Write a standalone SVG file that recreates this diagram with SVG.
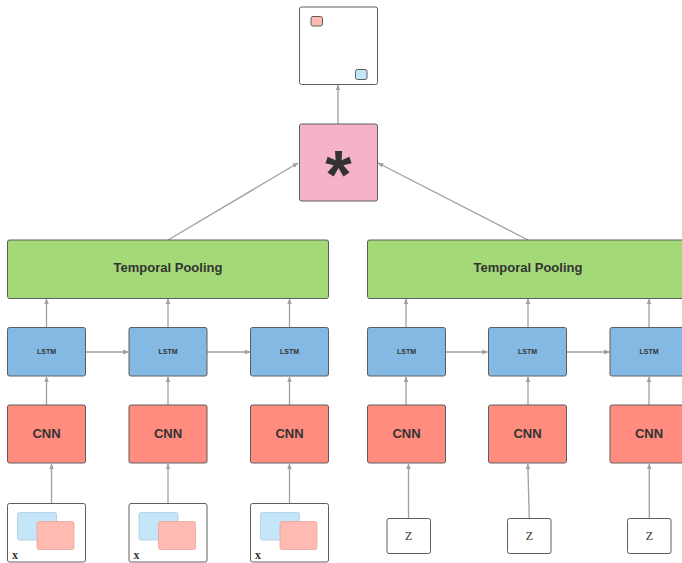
<svg xmlns="http://www.w3.org/2000/svg" width="682" height="563" viewBox="0 0 682 563">
<defs>
<style>
.n{stroke:#5e5e5e;stroke-width:1}
.pool{fill:#a3d977}
.lstm{fill:#83b9e3}
.cnn{fill:#ff8c7e}
.w{fill:#fff}
.c{stroke:#a0a0a0;stroke-width:1.3;fill:none;marker-end:url(#ah)}
.t{font-family:"Liberation Sans",Arial,sans-serif;font-weight:bold;fill:#333;text-anchor:middle}
.s{font-family:"Liberation Serif","Times New Roman",serif;fill:#333}
.ib{fill:#c5e6f8;stroke:#a9cde3;stroke-width:0.8}
.ip{fill:#ffbab2;stroke:#eaa39b;stroke-width:0.8}
</style>
<marker id="ah" viewBox="0 0 10 10" refX="9" refY="5" markerWidth="6" markerHeight="6" markerUnits="userSpaceOnUse" orient="auto">
<path d="M0,1 L10,5 L0,9 z" fill="#a0a0a0"/>
</marker>
</defs>
<g id="connectors">
<line class="c" x1="338" y1="124" x2="338" y2="85"/>
<line class="c" x1="168" y1="240" x2="298" y2="163"/>
<line class="c" x1="528" y1="240" x2="378" y2="163"/>
<line class="c" x1="46.5" y1="327.5" x2="46.5" y2="299"/>
<line class="c" x1="168" y1="327.5" x2="168" y2="299"/>
<line class="c" x1="289.5" y1="327.5" x2="289.5" y2="299"/>
<line class="c" x1="406" y1="327.5" x2="406" y2="299"/>
<line class="c" x1="528" y1="327.5" x2="528" y2="299"/>
<line class="c" x1="649" y1="327.5" x2="649" y2="299"/>
<line class="c" x1="85.5" y1="352" x2="128.5" y2="352"/>
<line class="c" x1="207" y1="352" x2="250" y2="352"/>
<line class="c" x1="445.5" y1="352" x2="487.5" y2="352"/>
<line class="c" x1="566.5" y1="352" x2="609.5" y2="352"/>
<line class="c" x1="46.5" y1="405" x2="46.5" y2="377"/>
<line class="c" x1="168" y1="405" x2="168" y2="377"/>
<line class="c" x1="289.5" y1="405" x2="289.5" y2="377"/>
<line class="c" x1="406" y1="405" x2="406" y2="377"/>
<line class="c" x1="528" y1="405" x2="528" y2="377"/>
<line class="c" x1="649" y1="405" x2="649" y2="377"/>
<line class="c" x1="51.5" y1="503" x2="51.5" y2="464"/>
<line class="c" x1="168" y1="503" x2="168" y2="464"/>
<line class="c" x1="289.5" y1="503" x2="289.5" y2="464"/>
<line class="c" x1="408.5" y1="518" x2="408.5" y2="464"/>
<line class="c" x1="529.3" y1="518" x2="527.8" y2="464"/>
<line class="c" x1="649.3" y1="518" x2="649.3" y2="464"/>
</g>
<g id="output">
<rect class="n w" x="299.5" y="7" width="78" height="77.5" rx="2"/>
<rect class="n" x="311" y="16.5" width="11.5" height="9.5" rx="2" fill="#ffbab2"/>
<rect class="n" x="355.5" y="69.5" width="11.5" height="10" rx="2" fill="#c5e6f8"/>
</g>
<g id="product">
<rect class="n" x="299.5" y="124" width="78" height="77" rx="2" fill="#f4b3c8"/>
<text class="t" x="338.5" y="198" font-size="68" fill="#2a2a2a">*</text>
</g>
<g id="pool1">
<rect class="n pool" x="7.5" y="240" width="321" height="58.5" rx="2"/>
<text class="t" x="168" y="272" font-size="13">Temporal Pooling</text>
</g>
<g id="pool2">
<rect class="n pool" x="367.5" y="240" width="321" height="58.5" rx="2"/>
<text class="t" x="528" y="272" font-size="13">Temporal Pooling</text>
</g>
<g id="lstm1"><rect class="n lstm" x="7.5" y="327.5" width="78" height="48.5" rx="2"/><text class="t" x="46.5" y="354" font-size="7">LSTM</text></g>
<g id="lstm2"><rect class="n lstm" x="129" y="327.5" width="78" height="48.5" rx="2"/><text class="t" x="168" y="354" font-size="7">LSTM</text></g>
<g id="lstm3"><rect class="n lstm" x="250.5" y="327.5" width="78" height="48.5" rx="2"/><text class="t" x="289.5" y="354" font-size="7">LSTM</text></g>
<g id="lstm4"><rect class="n lstm" x="367.5" y="327.5" width="78" height="48.5" rx="2"/><text class="t" x="406.5" y="354" font-size="7">LSTM</text></g>
<g id="lstm5"><rect class="n lstm" x="488.5" y="327.5" width="78" height="48.5" rx="2"/><text class="t" x="527.5" y="354" font-size="7">LSTM</text></g>
<g id="lstm6"><rect class="n lstm" x="610" y="327.5" width="78" height="48.5" rx="2"/><text class="t" x="649" y="354" font-size="7">LSTM</text></g>
<g id="cnn1"><rect class="n cnn" x="7.5" y="405" width="78" height="58" rx="2"/><text class="t" x="46.5" y="438" font-size="13">CNN</text></g>
<g id="cnn2"><rect class="n cnn" x="129" y="405" width="78" height="58" rx="2"/><text class="t" x="168" y="438" font-size="13">CNN</text></g>
<g id="cnn3"><rect class="n cnn" x="250.5" y="405" width="78" height="58" rx="2"/><text class="t" x="289.5" y="438" font-size="13">CNN</text></g>
<g id="cnn4"><rect class="n cnn" x="367.5" y="405" width="78" height="58" rx="2"/><text class="t" x="406.5" y="438" font-size="13">CNN</text></g>
<g id="cnn5"><rect class="n cnn" x="488.5" y="405" width="78" height="58" rx="2"/><text class="t" x="527.5" y="438" font-size="13">CNN</text></g>
<g id="cnn6"><rect class="n cnn" x="610" y="405" width="78" height="58" rx="2"/><text class="t" x="649" y="438" font-size="13">CNN</text></g>
<g id="x1">
<rect class="n w" x="7.5" y="503.5" width="78" height="58.5" rx="2"/>
<rect class="ib" x="17.5" y="512.5" width="39" height="27.5" rx="2"/>
<rect class="ip" x="37" y="521.5" width="37" height="28" rx="2"/>
<text class="s" x="12" y="559" font-size="12" font-weight="bold">x</text>
</g>
<g id="x2">
<rect class="n w" x="129" y="503.5" width="78" height="58.5" rx="2"/>
<rect class="ib" x="139" y="512.5" width="39" height="27.5" rx="2"/>
<rect class="ip" x="158.5" y="521.5" width="37" height="28" rx="2"/>
<text class="s" x="133.5" y="559" font-size="12" font-weight="bold">x</text>
</g>
<g id="x3">
<rect class="n w" x="250.5" y="503.5" width="78" height="58.5" rx="2"/>
<rect class="ib" x="260.5" y="512.5" width="39" height="27.5" rx="2"/>
<rect class="ip" x="280" y="521.5" width="37" height="28" rx="2"/>
<text class="s" x="255" y="559" font-size="12" font-weight="bold">x</text>
</g>
<g id="z1"><rect class="n w" x="387" y="518.5" width="43.5" height="35" rx="2"/><text class="s" x="408.7" y="540" font-size="12" text-anchor="middle">Z</text></g>
<g id="z2"><rect class="n w" x="507.5" y="518.5" width="43.5" height="35" rx="2"/><text class="s" x="529.3" y="540" font-size="12" text-anchor="middle">Z</text></g>
<g id="z3"><rect class="n w" x="627.5" y="518.5" width="43.5" height="35" rx="2"/><text class="s" x="649.3" y="540" font-size="12" text-anchor="middle">Z</text></g>
</svg>
